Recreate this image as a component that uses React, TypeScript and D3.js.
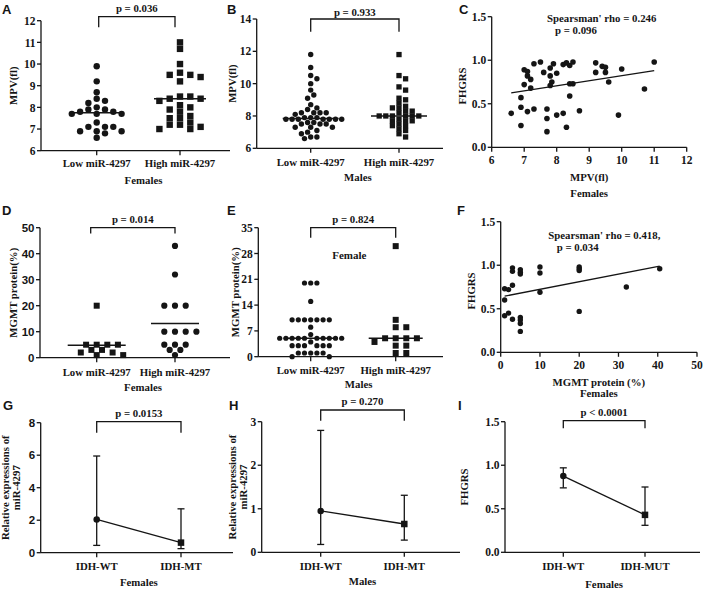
import React from "react";
import * as d3 from "d3";

const SERIF = "'Liberation Serif','Times New Roman',serif";
const SANS = "'Liberation Sans',Arial,sans-serif";
const INK = "#151515";

// ---------- Data ----------
const catsMiR = ["Low miR-4297", "High miR-4297"];
const catsIDH = ["IDH-WT", "IDH-MT"];
const catsIDH2 = ["IDH-WT", "IDH-MUT"];

// A: MPV, females
const A_low = [9.9, 9.2, 8.7, 8.4, 8.3, 8.2, 8.0, 7.9, 7.9, 7.8, 7.8, 7.7, 7.7, 7.7, 7.3, 7.1, 7.1, 7.1, 6.9, 6.9, 6.9, 6.8, 6.6];
const A_high = [11.0, 10.7, 10.0, 9.6, 9.5, 9.5, 9.4, 9.2, 8.5, 8.5, 8.4, 8.4, 8.3, 8.1, 8.0, 7.9, 7.8, 7.6, 7.5, 7.5, 7.3, 7.2, 7.2, 7.1, 7.0, 7.0];
const A_center = [7.75, 8.4];
const A_ticks = [6, 7, 8, 9, 10, 11, 12];

// B: MPV, males
const B_low = [11.8, 11.0, 10.5, 10.3, 10.0, 9.6, 9.3, 9.1, 8.7, 8.5, 8.4, 8.2, 8.2, 8.2, 8.2, 8.1, 7.9, 7.9, 7.9, 7.8, 7.8, 7.8, 7.8, 7.8, 7.8, 7.8, 7.6, 7.6, 7.5, 7.5, 7.5, 7.3, 7.3, 7.3, 7.1, 7.0, 6.9, 6.7, 6.7, 6.6];
const B_high = [11.8, 10.5, 10.3, 9.8, 9.6, 9.1, 9.0, 8.8, 8.6, 8.5, 8.5, 8.3, 8.3, 8.2, 8.0, 8.0, 8.0, 8.0, 8.0, 8.0, 7.8, 7.7, 7.7, 7.7, 7.5, 7.4, 7.4, 7.2, 7.1, 6.9, 6.7];
const B_center = [7.85, 8.0];
const B_ticks = [6, 8, 10, 12, 14];

// C: MPV vs FHGRS, females
const C_mpv = [6.6, 6.9, 6.9, 6.9, 7.0, 7.0, 7.1, 7.1, 7.2, 7.2, 7.1, 7.3, 7.3, 7.5, 7.6, 7.7, 7.7, 7.7, 7.8, 7.8, 7.9, 7.85, 7.8, 8.0, 8.0, 8.2, 8.2, 8.3, 8.3, 8.4, 8.5, 8.4, 8.5, 8.4, 8.7, 9.2, 9.2, 9.4, 9.5, 9.5, 9.6, 9.9, 10.0, 10.7, 11.0];
const C_fhgrs = [0.39, 0.46, 0.57, 0.25, 0.72, 0.89, 0.87, 0.82, 0.78, 0.68, 0.41, 0.44, 0.96, 0.98, 0.86, 0.44, 0.33, 0.18, 0.91, 0.82, 0.96, 0.75, 0.71, 0.85, 0.37, 0.95, 0.39, 0.97, 0.23, 0.94, 0.98, 0.73, 0.73, 0.59, 0.42, 0.97, 0.86, 0.93, 0.92, 0.86, 0.75, 0.37, 0.90, 0.67, 0.98];
const C_fit = [[6.6, 0.625], [11.0, 0.88]];
const C_xticks = [6, 7, 8, 9, 10, 11, 12];
const FHGRS_ticks = [0, 0.5, 1.0, 1.5];

// D: MGMT protein, females
const D_low = [20, 5, 5, 5, 5, 3, 3, 2, 2, 1, 1];
const D_high = [43, 32, 20, 20, 20, 10, 10, 10, 10, 5, 5, 5, 3, 3, 1];
const D_center = [4.8, 13.2];
const D_ticks = [0, 10, 20, 30, 40, 50];

// E: MGMT protein, males
const E_low = [20, 20, 20, 15, 10, 10, 10, 10, 10, 10, 10, 8, 6, 5, 5, 5, 5, 5, 5, 5, 5, 5, 5, 4, 3, 3, 3, 3, 3, 3, 1, 1, 1, 1, 1, 0, 0];
const E_high = [30, 10, 8, 8, 5, 5, 5, 5, 4, 3, 3, 1, 1];
const E_center = [5, 5];
const E_ticks = [0, 7, 14, 21, 28, 35];

// F: MGMT protein vs FHGRS, females
const F_mgmt = [1, 1, 1, 2, 2, 3, 3, 3, 3, 5, 5, 5, 5, 5, 5, 5, 10, 10, 10, 20, 20, 20, 20, 32, 40.5];
const F_fhgrs = [0.73, 0.60, 0.42, 0.72, 0.45, 0.77, 0.97, 0.93, 0.38, 0.95, 0.92, 0.90, 0.40, 0.37, 0.33, 0.24, 0.98, 0.91, 0.69, 0.98, 0.96, 0.94, 0.47, 0.75, 0.96];
const F_fit = [[1, 0.645], [40.5, 0.99]];
const F_xticks = [0, 10, 20, 30, 40, 50];

// G, H, I: median with range
const G_mid = [2.05, 0.62];
const G_lo = [0.45, 0.25];
const G_hi = [5.95, 2.7];
const G_ticks = [0, 2, 4, 6, 8];
const H_mid = [0.95, 0.65];
const H_lo = [0.18, 0.28];
const H_hi = [2.8, 1.31];
const H_ticks = [0, 1, 2, 3];
const I_mid = [0.875, 0.43];
const I_lo = [0.74, 0.31];
const I_hi = [0.97, 0.75];

// ---------- helpers ----------
// Column-scatter layout: points spread sideways in half-step increments, elliptical collision
function swarm(values: number[], y: (v: number) => number, step: number, size: number) {
  const sorted = [...values].sort((a, b) => b - a);
  const placed: { dx: number; y: number }[] = [];
  const h = step / 2;
  const cw = step * 0.95;
  const ch = size * 0.9;
  for (const v of sorted) {
    const py = y(v);
    for (let k = 0; k < 400; k++) {
      const m = Math.ceil(k / 2);
      const dx = (k % 2 === 1 ? 1 : -1) * m * h;
      const ok = placed.every((p) => ((p.dx - dx) / cw) ** 2 + ((p.y - py) / ch) ** 2 >= 1);
      if (ok) {
        placed.push({ dx, y: py });
        break;
      }
    }
  }
  return placed;
}

function Marker({ shape, x, y, size }: any) {
  return shape === "circle" ? (
    <circle cx={x} cy={y} r={size / 2} fill={INK} />
  ) : (
    <rect x={x - size / 2} y={y - size / 2} width={size} height={size} fill={INK} />
  );
}

function YAxis({ x, scale, ticks, fmt, font, size = 11.5 }: any) {
  const [d0, d1] = scale.domain();
  return (
    <g>
      <line x1={x} x2={x} y1={scale(d1)} y2={scale(d0)} stroke={INK} strokeWidth={1.3} />
      {ticks.map((t: number) => (
        <g key={t}>
          <line x1={x - 4} x2={x} y1={scale(t)} y2={scale(t)} stroke={INK} strokeWidth={1.3} />
          <text x={x - 5.5} y={scale(t)} dy="0.36em" textAnchor="end" fontSize={size} fontFamily={font || SERIF} fontWeight="bold" fill={INK}>
            {fmt ? fmt(t) : t}
          </text>
        </g>
      ))}
    </g>
  );
}

function XCatAxis({ left, right, y, xs, labels, labelY }: any) {
  return (
    <g>
      <line x1={left} x2={right} y1={y} y2={y} stroke={INK} strokeWidth={1.3} />
      {xs.map((x: number, i: number) => (
        <g key={i}>
          <line x1={x} x2={x} y1={y} y2={y + 4.5} stroke={INK} strokeWidth={1.3} />
          <text x={x} y={labelY} dy="0.36em" textAnchor="middle" fontSize={10.8} fontFamily={SERIF} fontWeight="bold" fill={INK}>
            {labels[i]}
          </text>
        </g>
      ))}
    </g>
  );
}

function Bracket({ x1, x2, top, leg, text, textY }: any) {
  return (
    <g>
      <path d={`M${x1},${leg}V${top}H${x2}V${leg}`} fill="none" stroke={INK} strokeWidth={1.3} />
      <text x={(x1 + x2) / 2} y={textY} dy="0.36em" textAnchor="middle" fontSize={10.8} fontFamily={SERIF} fontWeight="bold" fill={INK}>
        {text}
      </text>
    </g>
  );
}

function Label({ x, y, text, size = 10.8, anchor = "middle" }: any) {
  return (
    <text x={x} y={y} dy="0.36em" textAnchor={anchor} fontSize={size} fontFamily={SERIF} fontWeight="bold" fill={INK}>
      {text}
    </text>
  );
}

function YLabel({ x, y, lines, size = 10.8, gap = 11 }: any) {
  return (
    <text transform={`translate(${x},${y}) rotate(-90)`} textAnchor="middle" fontSize={size} fontFamily={SERIF} fontWeight="bold" fill={INK}>
      {lines.map((l: string, i: number) => (
        <tspan key={i} x={0} y={i * gap} dy="0.36em">
          {l}
        </tspan>
      ))}
    </text>
  );
}

function Letter({ x, y, t }: any) {
  return (
    <text x={x} y={y} fontSize={13} fontFamily={SANS} fontWeight="bold" fill={INK}>
      {t}
    </text>
  );
}

function DotPanel({ left, right, top, bottom, domain, ticks, tickFont, catRange, cats, groups, centers, bracket, catLabelY, xTitle, xTitleY, yTitle, yTitleX }: any) {
  const y = d3.scaleLinear().domain(domain).range([bottom, top]);
  const x = d3.scalePoint<string>().domain(cats).range(catRange);
  const xs = cats.map((c: string) => x(c) as number);
  return (
    <g>
      {groups.map((g: any, gi: number) => {
        const cx = xs[gi];
        const pts = swarm(g.values, y, g.step, g.size);
        return (
          <g key={gi}>
            {pts.map((p, i) => (
              <Marker key={i} shape={g.shape} x={cx + p.dx} y={p.y} size={g.size} />
            ))}
            <line x1={cx - g.half} x2={cx + g.half} y1={y(centers[gi])} y2={y(centers[gi])} stroke={INK} strokeWidth={1.5} />
          </g>
        );
      })}
      <YAxis x={left} scale={y} ticks={ticks} font={tickFont} />
      <XCatAxis left={left} right={right} y={bottom} xs={xs} labels={cats} labelY={catLabelY} />
      <Bracket x1={xs[0] + bracket.inset[0]} x2={xs[1] + bracket.inset[1]} top={bracket.top} leg={bracket.leg} text={bracket.text} textY={bracket.textY} />
      <Label x={(left + right) / 2 + 8} y={xTitleY} text={xTitle} />
      <YLabel x={yTitleX} y={(top + bottom) / 2} lines={[yTitle]} />
    </g>
  );
}

function ScatterPanel({ xRange, top, bottom, xDomain, xTicks, xs, ys, fit, size, tickLabelY, xTitle, xTitleY, sub, subY, yTitleX, note, noteX, noteY, note2, note2X }: any) {
  const x = d3.scaleLinear().domain(xDomain).range(xRange);
  const y = d3.scaleLinear().domain([0, 1.5]).range([bottom, top]);
  const line = d3.line<number[]>().x((d) => x(d[0])).y((d) => y(d[1]));
  return (
    <g>
      {xs.map((v: number, i: number) => (
        <circle key={i} cx={x(v)} cy={y(ys[i])} r={size / 2} fill={INK} />
      ))}
      <path d={line(fit) || ""} stroke={INK} strokeWidth={1.3} fill="none" />
      <YAxis x={xRange[0]} scale={y} ticks={FHGRS_ticks} fmt={(t: number) => t.toFixed(1)} />
      <line x1={xRange[0]} x2={xRange[1]} y1={bottom} y2={bottom} stroke={INK} strokeWidth={1.3} />
      {xTicks.map((t: number) => (
        <g key={t}>
          <line x1={x(t)} x2={x(t)} y1={bottom} y2={bottom + 4.5} stroke={INK} strokeWidth={1.3} />
          <Label x={x(t)} y={tickLabelY} text={t} size={11.5} />
        </g>
      ))}
      <Label x={(xRange[0] + xRange[1]) / 2} y={xTitleY} text={xTitle} />
      <Label x={(xRange[0] + xRange[1]) / 2} y={subY} text={sub} />
      <YLabel x={yTitleX} y={(top + bottom) / 2 + 4} lines={["FHGRS"]} />
      <Label x={noteX} y={noteY} text={note} anchor="start" />
      <Label x={note2X} y={noteY + 12} text={note2} anchor="start" />
    </g>
  );
}

function ErrPanel({ left, right, top, bottom, domain, ticks, tickFont, fmt, catRange, cats, mid, lo, hi, bracket, catLabelY, xTitle, xTitleY, yTitle, yTitleX, yGap }: any) {
  const y = d3.scaleLinear().domain(domain).range([bottom, top]);
  const x = d3.scalePoint<string>().domain(cats).range(catRange);
  const xs = cats.map((c: string) => x(c) as number);
  const line = d3.line<number>().x((_, i) => xs[i]).y((d) => y(d));
  return (
    <g>
      <path d={line(mid) || ""} stroke={INK} strokeWidth={1.3} fill="none" />
      {xs.map((cx: number, i: number) => (
        <g key={i}>
          <line x1={cx} x2={cx} y1={y(lo[i])} y2={y(hi[i])} stroke={INK} strokeWidth={1.3} />
          <line x1={cx - 3.5} x2={cx + 3.5} y1={y(lo[i])} y2={y(lo[i])} stroke={INK} strokeWidth={1.3} />
          <line x1={cx - 3.5} x2={cx + 3.5} y1={y(hi[i])} y2={y(hi[i])} stroke={INK} strokeWidth={1.3} />
          <Marker shape={i === 0 ? "circle" : "square"} x={cx} y={y(mid[i])} size={6.5} />
        </g>
      ))}
      <YAxis x={left} scale={y} ticks={ticks} font={tickFont} fmt={fmt} />
      <XCatAxis left={left} right={right} y={bottom} xs={xs} labels={cats} labelY={catLabelY} />
      <Bracket x1={xs[0]} x2={xs[1]} top={bracket.top} leg={bracket.leg} text={bracket.text} textY={bracket.textY} />
      <Label x={(xs[0] + xs[1]) / 2} y={xTitleY} text={xTitle} />
      <YLabel x={yTitleX} y={(top + bottom) / 2} lines={yTitle} gap={yGap || 11} />
    </g>
  );
}

export default function App() {
  return (
    <svg width={708} height={591} style={{ position: "absolute", left: 0, top: 0, background: "#fff" }}>
      <rect width={708} height={591} fill="#fff" />
      <Letter x={2} y={14} t="A" />
      <Letter x={227} y={14} t="B" />
      <Letter x={459} y={14} t="C" />
      <Letter x={2} y={215} t="D" />
      <Letter x={227} y={215} t="E" />
      <Letter x={457} y={215} t="F" />
      <Letter x={3} y={410} t="G" />
      <Letter x={229} y={410} t="H" />
      <Letter x={458} y={410} t="I" />

      <DotPanel
        left={41} right={230} top={20.7} bottom={150.7} domain={[6, 12]} ticks={A_ticks}
        catRange={[96.7, 180]} cats={catsMiR}
        groups={[
          { values: A_low, shape: "circle", size: 6.4, step: 8.3, half: 27 },
          { values: A_high, shape: "square", size: 6.4, step: 10.3, half: 26 },
        ]}
        centers={A_center}
        bracket={{ top: 16.7, leg: 27.3, text: "p = 0.036", textY: 8.3, inset: [2, -5] }}
        catLabelY={163} xTitle="Females" xTitleY={180} yTitle="MPV(fl)" yTitleX={13}
      />
      <DotPanel
        left={256.7} right={443} top={19} bottom={148.3} domain={[6, 14]} ticks={B_ticks}
        catRange={[310.7, 399]} cats={catsMiR}
        groups={[
          { values: B_low, shape: "circle", size: 5.4, step: 6.2, half: 28 },
          { values: B_high, shape: "square", size: 5.3, step: 6.6, half: 28 },
        ]}
        centers={B_center}
        bracket={{ top: 19, leg: 31.7, text: "p = 0.933", textY: 11.7, inset: [0, 0] }}
        catLabelY={161.7} xTitle="Males" xTitleY={176.7} yTitle="MPV(fl)" yTitleX={232}
      />
      <ScatterPanel
        xRange={[491.7, 686.7]} top={16.7} bottom={147.3} xDomain={[6, 12]} xTicks={C_xticks}
        xs={C_mpv} ys={C_fhgrs} fit={C_fit} size={5.6} tickLabelY={160}
        xTitle="MPV(fl)" xTitleY={176.7} sub="Females" subY={193.3} yTitleX={462}
        note="Spearsman' rho = 0.246" noteX={547} noteY={18.3} note2="p = 0.096" note2X={555}
      />

      <DotPanel
        left={40} right={230} top={227.7} bottom={357.7} domain={[0, 50]} ticks={D_ticks} tickFont={SANS}
        catRange={[96.7, 175]} cats={catsMiR}
        groups={[
          { values: D_low, shape: "square", size: 6, step: 10.6, half: 29 },
          { values: D_high, shape: "circle", size: 6.2, step: 10.7, half: 24 },
        ]}
        centers={D_center}
        bracket={{ top: 227.7, leg: 233.5, text: "p = 0.014", textY: 219.3, inset: [-6, 0] }}
        catLabelY={371.7} xTitle="Females" xTitleY={386.7} yTitle="MGMT protein(%)" yTitleX={13}
      />
      <DotPanel
        left={258.3} right={443} top={227.7} bottom={356.7} domain={[0, 35]} ticks={E_ticks}
        catRange={[310.7, 395.7]} cats={catsMiR}
        groups={[
          { values: E_low, shape: "circle", size: 5.2, step: 6.2, half: 27 },
          { values: E_high, shape: "square", size: 6, step: 10.6, half: 27 },
        ]}
        centers={E_center}
        bracket={{ top: 227.7, leg: 237.7, text: "p = 0.824", textY: 219.3, inset: [0, 0] }}
        catLabelY={370} xTitle="Males" xTitleY={384} yTitle="MGMT protein(%)" yTitleX={235}
      />
      <Label x={349.3} y={255} text="Female" size={11} />
      <ScatterPanel
        xRange={[500.7, 697]} top={221.7} bottom={352.3} xDomain={[0, 50]} xTicks={F_xticks}
        xs={F_mgmt} ys={F_fhgrs} fit={F_fit} size={5.4} tickLabelY={365}
        xTitle="MGMT protein (%)" xTitleY={381.7} sub="Females" subY={393.5} yTitleX={471}
        note="Spearsman' rho = 0.418," noteX={548.3} noteY={235} note2="p = 0.034" note2X={556.7}
      />

      <ErrPanel
        left={40.7} right={233} top={422.7} bottom={552.7} domain={[0, 8]} ticks={G_ticks} tickFont={SANS}
        catRange={[96.7, 181]} cats={catsIDH} mid={G_mid} lo={G_lo} hi={G_hi}
        bracket={{ top: 421.7, leg: 432.7, text: "p = 0.0153", textY: 413 }}
        catLabelY={565.7} xTitle="Females" xTitleY={582.3}
        yTitle={["Relative expressions of", "miR-4297"]} yTitleX={5} yGap={10.7}
      />
      <ErrPanel
        left={261.7} right={460} top={421.7} bottom={552.3} domain={[0, 3]} ticks={H_ticks}
        catRange={[320.7, 404.3]} cats={catsIDH} mid={H_mid} lo={H_lo} hi={H_hi}
        bracket={{ top: 410, leg: 420.7, text: "p = 0.270", textY: 401 }}
        catLabelY={565.7} xTitle="Males" xTitleY={580.7}
        yTitle={["Relative expressions of", "miR-4297"]} yTitleX={232} yGap={11.5}
      />
      <ErrPanel
        left={505} right={700} top={421.7} bottom={552.3} domain={[0, 1.5]} ticks={FHGRS_ticks}
        fmt={(t: number) => t.toFixed(1)}
        catRange={[563.3, 645]} cats={catsIDH2} mid={I_mid} lo={I_lo} hi={I_hi}
        bracket={{ top: 420.7, leg: 428.3, text: "p < 0.0001", textY: 412.3 }}
        catLabelY={565.7} xTitle="Females" xTitleY={584}
        yTitle={["FHGRS"]} yTitleX={464}
      />
    </svg>
  );
}
